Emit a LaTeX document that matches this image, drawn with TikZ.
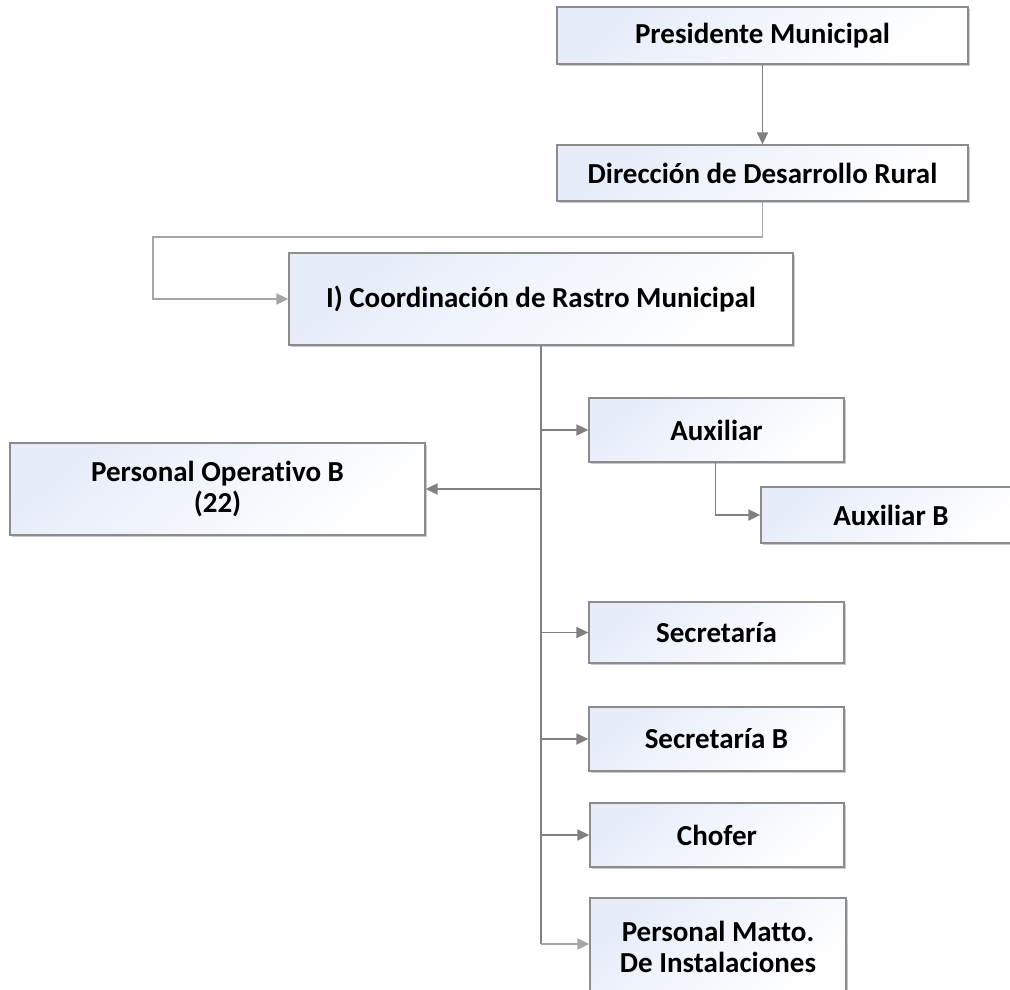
\documentclass[tikz,border=0pt]{standalone}
\usepackage{fontspec}
\setmainfont{Carlito}[Ligatures=CommonOff]
\usetikzlibrary{shadows,arrows.meta}
\definecolor{boxline}{HTML}{8C8C8C}
\definecolor{linkdark}{HTML}{808080}
\definecolor{linklight}{HTML}{A6A6A6}
\definecolor{boxtint}{HTML}{E6ECF8}
\tikzset{
  orgbox/.style={draw=boxline, line width=1.3pt, top color=boxtint, bottom color=white,
    shading angle=40, drop shadow={shadow xshift=1.5pt, shadow yshift=-2pt, opacity=0.35, fill=black!60},
    font=\fontsize{29}{31}\selectfont\bfseries, align=center, inner sep=0pt},
  link/.style={draw=linkdark, line width=1.8pt, -{Triangle[length=12pt,width=11pt]}},
  plainlink/.style={draw=linkdark, line width=1.8pt},
}
\begin{document}
\begin{tikzpicture}[x=1pt,y=-1pt]
\clip (0,0) rectangle (1010,989);
\fill[white] (0,0) rectangle (1010,989);
\node[orgbox, minimum width=411pt, minimum height=57pt] (pres) at (762.5,35.5) {Presidente Municipal};
\node[orgbox, minimum width=411pt, minimum height=56pt] (dir) at (762.5,173) {Dirección de Desarrollo Rural};
\node[orgbox, minimum width=504pt, minimum height=92pt] (coord) at (541,299) {I) Coordinación de Rastro Municipal};
\node[orgbox, minimum width=255pt, minimum height=64pt] (aux) at (716.5,430) {Auxiliar};
\node[orgbox, minimum width=260pt, minimum height=56pt] (auxb) at (891,515) {Auxiliar B};
\node[orgbox, minimum width=415pt, minimum height=92pt] (pob) at (217.5,489) {Personal Operativo B\\(22)};
\node[orgbox, minimum width=255pt, minimum height=61pt] (sec) at (716.5,632.5) {Secretaría};
\node[orgbox, minimum width=255pt, minimum height=64pt] (secb) at (716.5,739) {Secretaría B};
\node[orgbox, minimum width=254pt, minimum height=64pt] (chof) at (717,835) {Chofer};
\node[orgbox, minimum width=256pt, minimum height=98pt] (matto) at (718,947) {Personal Matto.\\De Instalaciones};

\coordinate (j1) at (153,237);
\coordinate (tb) at (541,944);

\draw[link] (pres) -- (dir);
\draw[link, draw=linklight] (dir.south) |- (j1) |- (coord.west);
\draw[plainlink] (coord.south) -- (tb);
\draw[link] (coord.south |- aux.west) -- (aux.west);
\draw[link] (coord.south |- pob.east) -- (pob.east);
\draw[link] ([xshift=-1pt]aux.south) |- (auxb.west);
\draw[link] (coord.south |- sec.west) -- (sec.west);
\draw[link] (coord.south |- secb.west) -- (secb.west);
\draw[link] (coord.south |- chof.west) -- (chof.west);
\draw[link, draw=linklight] (tb) -- (tb -| matto.west);
\end{tikzpicture}
\end{document}
